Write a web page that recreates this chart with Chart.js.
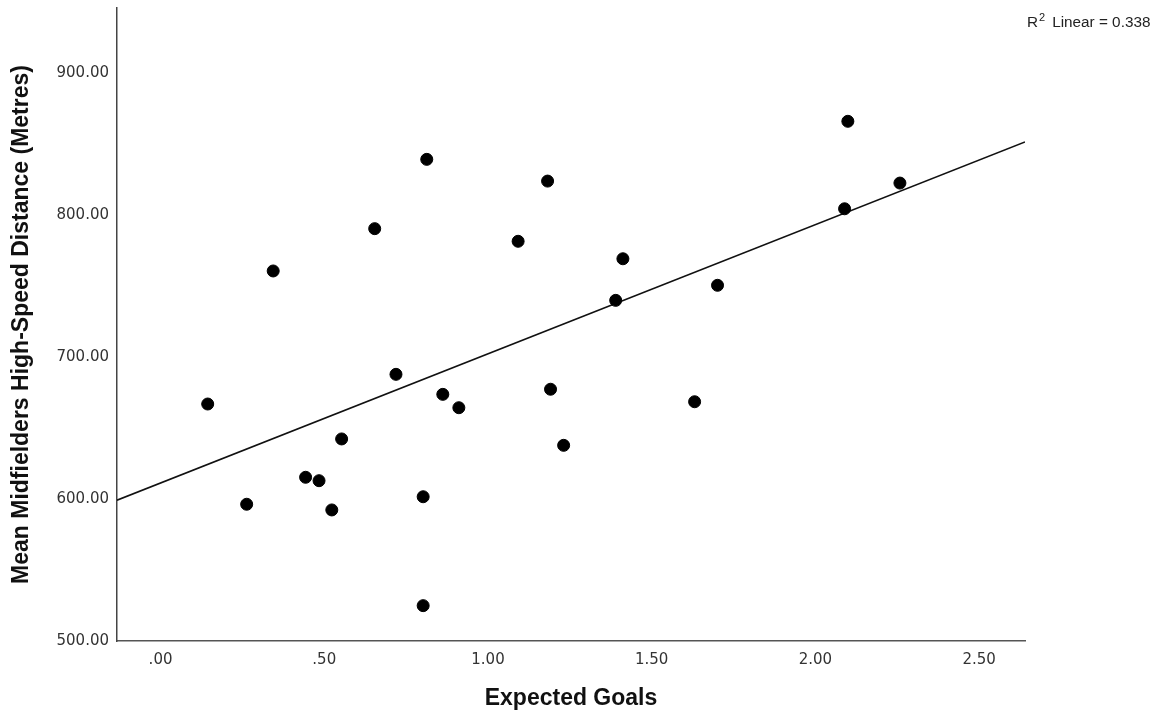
<!DOCTYPE html>
<html>
<head>
<meta charset="utf-8">
<script src="https://cdn.jsdelivr.net/npm/chart.js@4/dist/chart.umd.min.js"></script>
<style>
  html, body { margin: 0; padding: 0; background: #ffffff; }
  #wrap { width: 1170px; height: 715px; position: relative; }
</style>
</head>
<body>
<div id="wrap"><canvas id="c" width="1170" height="715"></canvas></div>
<script>
// ---- Data ----
const expectedGoals = [0.144, 0.263, 0.344, 0.443, 0.484, 0.523, 0.553, 0.654, 0.719, 0.813,
                       0.802, 0.802, 0.862, 0.911, 1.092, 1.182, 1.191, 1.231, 1.390, 1.412,
                       1.631, 1.701, 2.089, 2.099, 2.258];
const highSpeedDistance = [666.9, 596.3, 760.6, 615.3, 612.9, 592.3, 642.3, 790.4, 687.8, 839.2,
                           601.6, 524.9, 673.7, 664.3, 781.5, 823.9, 677.3, 637.8, 739.9, 769.2,
                           668.5, 750.5, 804.4, 866.0, 822.5];
const xTickValues = [0, 0.5, 1, 1.5, 2, 2.5];
const xTickLabels = ['.00', '.50', '1.00', '1.50', '2.00', '2.50'];
const yTickValues = [500, 600, 700, 800, 900];
const yTickLabels = ['500.00', '600.00', '700.00', '800.00', '900.00'];
const xAxisRange = [-0.133, 2.640];
const yAxisRange = [500, 945.8];
const xTitle = 'Expected Goals';
const yTitle = 'Mean Midfielders High-Speed Distance (Metres)';
const fitLabelParts = ['R', '2', 'Linear = 0.338'];

// ---- Linear fit computed from the data ----
const n = expectedGoals.length;
const mx = expectedGoals.reduce((a, b) => a + b, 0) / n;
const my = highSpeedDistance.reduce((a, b) => a + b, 0) / n;
let sxy = 0, sxx = 0;
for (let i = 0; i < n; i++) {
  sxy += (expectedGoals[i] - mx) * (highSpeedDistance[i] - my);
  sxx += (expectedGoals[i] - mx) ** 2;
}
const slope = sxy / sxx;
const intercept = my - slope * mx;
const fitLine = xAxisRange.map(x => ({ x: x, y: intercept + slope * x }));

const points = expectedGoals.map((x, i) => ({ x: x, y: highSpeedDistance[i] }));

const fitLabelPlugin = {
  id: 'fitLabel',
  afterDraw(chart) {
    const ctx = chart.ctx;
    ctx.save();
    ctx.fillStyle = '#222222';
    ctx.textBaseline = 'alphabetic';
    ctx.textAlign = 'left';
    let x = chart.chartArea.right + 2;
    const y = 27;
    ctx.font = '15.3px "Liberation Sans", Arial, sans-serif';
    ctx.fillText(fitLabelParts[0], x, y);
    x += ctx.measureText(fitLabelParts[0]).width + 1;
    ctx.font = '11px "Liberation Sans", Arial, sans-serif';
    ctx.fillText(fitLabelParts[1], x, y - 6);
    x += ctx.measureText(fitLabelParts[1]).width + 7;
    ctx.font = '15.3px "Liberation Sans", Arial, sans-serif';
    ctx.fillText(fitLabelParts[2], x, y);
    ctx.restore();
  }
};

new Chart(document.getElementById('c'), {
  type: 'scatter',
  data: {
    datasets: [
      {
        type: 'scatter',
        data: points,
        backgroundColor: '#000000',
        borderColor: '#000000',
        borderWidth: 1,
        pointRadius: 6,
        pointHoverRadius: 6
      },
      {
        type: 'line',
        data: fitLine,
        borderColor: '#111111',
        borderWidth: 1.6,
        pointRadius: 0,
        fill: false,
        tension: 0
      }
    ]
  },
  options: {
    responsive: false,
    animation: false,
    events: [],
    layout: { padding: { left: 0, top: 8, right: 145, bottom: 0 } },
    plugins: { legend: { display: false }, tooltip: { enabled: false } },
    scales: {
      x: {
        type: 'linear',
        min: xAxisRange[0],
        max: xAxisRange[1],
        afterBuildTicks: s => { s.ticks = xTickValues.map(v => ({ value: v })); },
        afterFit: s => { s.height = 74; s.paddingLeft = 0; s.paddingRight = 0; },
        grid: { display: false, drawTicks: false },
        border: { display: true, color: '#555555', width: 1.5 },
        ticks: {
          padding: 10,
          color: '#333333',
          font: { family: '"DejaVu Sans", sans-serif', size: 15 },
          maxRotation: 0,
          autoSkip: false,
          callback: (v) => { const i = xTickValues.indexOf(v); return i >= 0 ? xTickLabels[i] : ''; }
        },
        title: {
          display: true,
          text: xTitle,
          color: '#111111',
          font: { family: '"Liberation Sans", Arial, sans-serif', size: 23, weight: 'bold' },
          padding: { top: 0, bottom: 3 }
        }
      },
      y: {
        type: 'linear',
        min: yAxisRange[0],
        max: yAxisRange[1],
        afterBuildTicks: s => { s.ticks = yTickValues.map(v => ({ value: v })); },
        afterFit: s => { s.width = 117; s.paddingTop = 0; s.paddingBottom = 0; },
        grid: { display: false, drawTicks: false },
        border: { display: true, color: '#444444', width: 1.5 },
        ticks: {
          padding: 8,
          color: '#333333',
          font: { family: '"DejaVu Sans", sans-serif', size: 15 },
          autoSkip: false,
          callback: (v) => { const i = yTickValues.indexOf(v); return i >= 0 ? yTickLabels[i] : ''; }
        },
        title: {
          display: true,
          text: yTitle,
          color: '#111111',
          font: { family: '"Liberation Sans", Arial, sans-serif', size: 23, weight: 'bold' },
          padding: { top: 8, bottom: 0 }
        }
      }
    }
  },
  plugins: [fitLabelPlugin]
});
</script>
</body>
</html>
